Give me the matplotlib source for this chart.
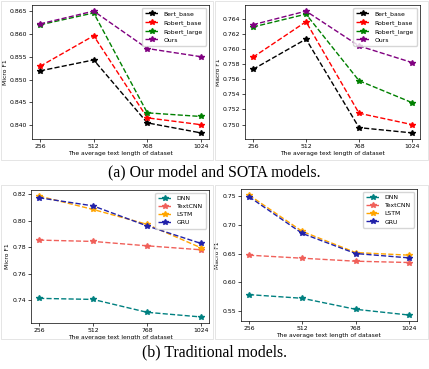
import matplotlib.pyplot as plt
from matplotlib.patches import Rectangle

lengths = [256, 512, 768, 1024]

# (a) our model vs SOTA
sota_names = ['Bert_base', 'Robert_base', 'Robert_large', 'Ours']
sota_colors = ['black', 'red', 'green', 'purple']
sota_micro = [
    [0.8519, 0.8543, 0.8405, 0.8383],
    [0.8529, 0.8596, 0.8416, 0.8401],
    [0.8620, 0.8646, 0.8427, 0.8419],
    [0.8622, 0.8650, 0.8568, 0.8550],
]
sota_macro = [
    [0.7573, 0.7613, 0.7496, 0.7489],
    [0.7589, 0.7636, 0.7515, 0.7500],
    [0.7629, 0.7646, 0.7558, 0.7529],
    [0.7632, 0.7650, 0.7604, 0.7582],
]

# (b) traditional models
trad_names = ['DNN', 'TextCNN', 'LSTM', 'GRU']
trad_colors = ['teal', '#f0605a', 'orange', '#2222aa']
trad_micro = [
    [0.7414, 0.7406, 0.7309, 0.7274],
    [0.7853, 0.7843, 0.7810, 0.7780],
    [0.8185, 0.8084, 0.7972, 0.7795],
    [0.8172, 0.8111, 0.7960, 0.7828],
]
trad_macro = [
    [0.5786, 0.5722, 0.5530, 0.5430],
    [0.6474, 0.6421, 0.6369, 0.6346],
    [0.7523, 0.6888, 0.6520, 0.6474],
    [0.7494, 0.6853, 0.6503, 0.6427],
]

fig = plt.figure(figsize=(4.29, 3.69), dpi=100)


def draw(rect, series, names, colors, ylabel, yticks):
    ax = fig.add_axes(rect)
    for vals, name, c in zip(series, names, colors):
        ax.plot(lengths, vals, '--', marker='*', color=c, label=name,
                lw=1.0, ms=4)
    ax.set_xticks(lengths)
    ax.set_yticks(yticks)
    ax.tick_params(labelsize=4.4, length=2, width=0.5, pad=1.5)
    ax.set_xlabel('The average text length of dataset', fontsize=4.3, labelpad=1.5)
    ax.set_ylabel(ylabel, fontsize=4.3, labelpad=1.5)
    for s in ax.spines.values():
        s.set_linewidth(0.5)
    ax.legend(loc='upper right', fontsize=4.4, handlelength=2.2,
              borderpad=0.5, labelspacing=0.45, frameon=True)
    return ax


draw([0.0746, 0.6233, 0.4126, 0.3631], sota_micro, sota_names, sota_colors,
     'Micro F1', [0.840, 0.845, 0.850, 0.855, 0.860, 0.865])
draw([0.5711, 0.6233, 0.4080, 0.3631], sota_macro, sota_names, sota_colors,
     'Macro F1', [0.750, 0.752, 0.754, 0.756, 0.758, 0.760, 0.762, 0.764])
draw([0.0723, 0.1247, 0.4150, 0.3604], trad_micro, trad_names, trad_colors,
     'Micro F1', [0.74, 0.76, 0.78, 0.80, 0.82])
draw([0.5618, 0.1300, 0.4100, 0.3577], trad_macro, trad_names, trad_colors,
     'Macro F1', [0.55, 0.60, 0.65, 0.70, 0.75])

# light frames around each sub-picture
for x0, y0, w, h in [(1, 209, 212, 159), (215, 209, 213, 159),
                     (1, 30, 212, 154), (215, 30, 213, 154)]:
    fig.add_artist(Rectangle((x0 / 429, y0 / 369), w / 429, h / 369,
                             transform=fig.transFigure, fill=False,
                             ec='#e0e0e0', lw=0.6))

fig.text(0.5, 1 - 172 / 369, '(a) Our model and SOTA models.', ha='center',
         va='center', fontsize=11.3, family='Liberation Serif')
fig.text(0.5, 1 - 352 / 369, '(b) Traditional models.', ha='center',
         va='center', fontsize=11.3, family='Liberation Serif')

fig.savefig('out.png', dpi=100)
